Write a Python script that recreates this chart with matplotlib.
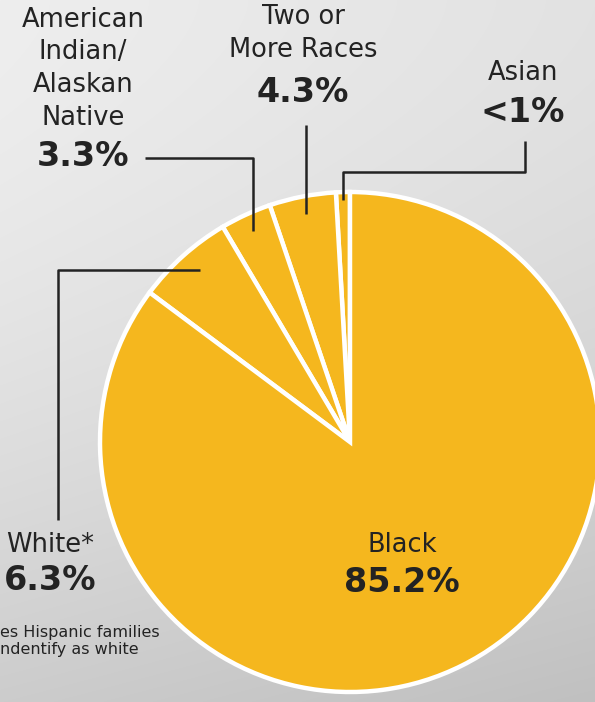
import numpy as np
import matplotlib
matplotlib.use("Agg")
from matplotlib import pyplot as plt

W, H = 595, 702      # 图片像素尺寸
DPI = 100

# 数据
groups = ["Asian", "Two or\nMore Races", "American\nIndian/\nAlaskan\nNative", "White*", "Black"]
shares = [0.9, 4.3, 3.3, 6.3, 85.2]
share_labels = ["<1%", "4.3%", "3.3%", "6.3%", "85.2%"]
footnote = "es Hispanic families\nndentify as white"

YELLOW = "#F5B71E"
INK = "#232323"

fig = plt.figure(figsize=(W / DPI, H / DPI), dpi=DPI)
ax = fig.add_axes([0, 0, 1, 1])

# 背景：灰色渐变
yy, xx = np.mgrid[0:H, 0:W]
bg = 238 - 34 * (yy / H) ** 1.6 - 12 * (xx / W)
bg = np.clip(bg, 0, 255) / 255.0
ax.imshow(np.dstack([bg, bg, bg]), extent=(0, W, H, 0), zorder=0)

cx, cy, R = 350, 442, 250
# y轴向下，所以起始角为-90且顺时针（屏幕上为逆时针）
wedges, _ = ax.pie(shares, startangle=-90, counterclock=False, center=(cx, cy), radius=R,
                   colors=[YELLOW] * len(shares),
                   wedgeprops=dict(edgecolor="white", linewidth=3.2))
for w in wedges:
    w.set_zorder(2)

ax.set_xlim(0, W)
ax.set_ylim(H, 0)
ax.set_aspect("equal")
ax.axis("off")

# 每块中线角度 -> 引线终点
def anchor(i, frac=0.93):
    t = np.deg2rad((wedges[i].theta1 + wedges[i].theta2) / 2)
    return cx + frac * R * np.cos(t), cy + frac * R * np.sin(t)

lk = dict(color=INK, lw=1.8, solid_capstyle="butt", zorder=3)
# Asian
ax_, ay_ = anchor(0, 0.97)
ax.plot([ax_, ax_, 525, 525], [ay_, 172, 172, 141], **lk)
# Two or more
tx, ty = anchor(1)
ax.plot([tx, tx], [ty, 125], **lk)
# American Indian
ix, iy = anchor(2)
ax.plot([145, ix, ix], [158, 158, iy], **lk)
# White
wx, wy = anchor(3, 0.9)
ax.plot([wx, 58, 58], [270, 270, 520], **lk)

# 文字位置
name_pos = [(523, [73]), (303, [17, 50]), (83, [20, 52, 85, 118]), (50, [545]), (402, [545])]
pct_pos = [113, 92, 157, 580, 582]
for g, (x, ys), p, s in zip(groups, name_pos, pct_pos, share_labels):
    for line, y in zip(g.split("\n"), ys):
        ax.text(x, y, line, ha="center", va="center", fontsize=18.5, color=INK, zorder=4)
    ax.text(x, p, s, ha="center", va="center", fontsize=24, fontweight="bold", color=INK, zorder=4)

ax.text(0, 641, footnote, ha="left", va="center", fontsize=11.5, color=INK, linespacing=1.1, zorder=4)

fig.savefig("out.png", dpi=DPI)
